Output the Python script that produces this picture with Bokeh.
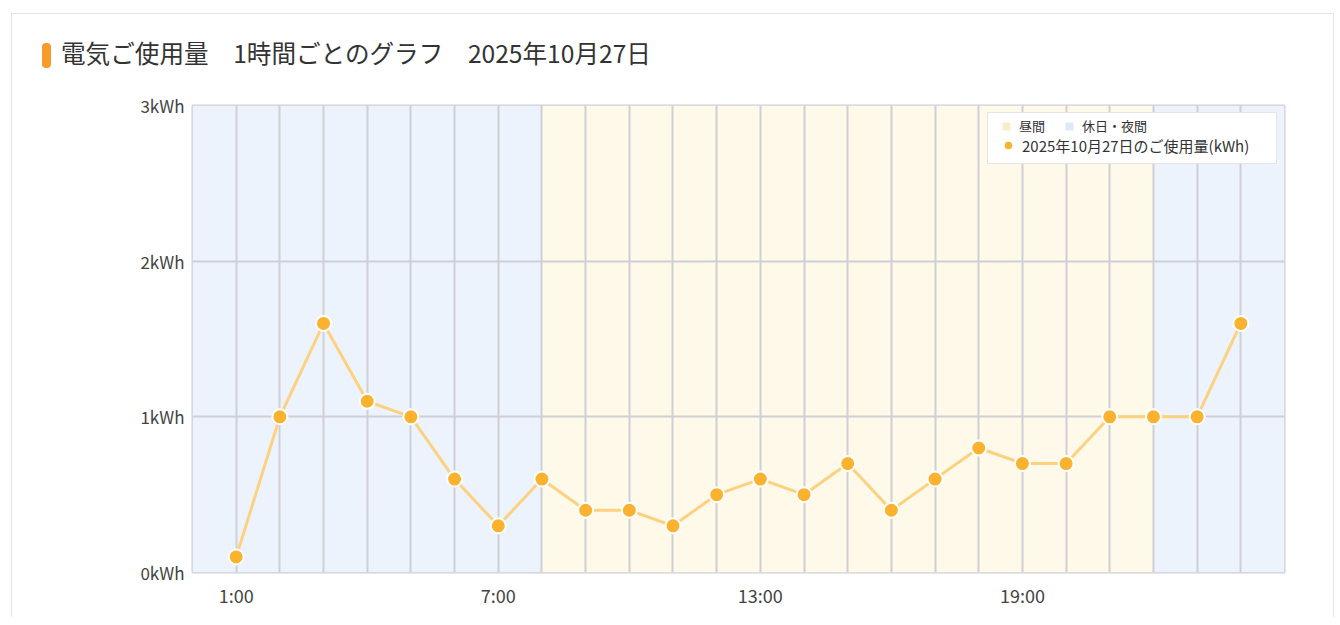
from bokeh.plotting import figure
from bokeh.layouts import column
from bokeh.models import Range1d, FixedTicker, Grid, Legend, LegendItem, Div
from bokeh.embed import file_html
from bokeh.resources import INLINE

# ---- data ----
title_text = "電気ご使用量　1時間ごとのグラフ　2025年10月27日"
hours = list(range(1, 25))
usage = [0.1, 1.0, 1.6, 1.1, 1.0, 0.6, 0.3, 0.6, 0.4, 0.4, 0.3, 0.5,
         0.6, 0.5, 0.7, 0.4, 0.6, 0.8, 0.7, 0.7, 1.0, 1.0, 1.0, 1.6]
day_start = [8]
day_end = [22]
night_start = [0, 22]
night_end = [8, 25]
x_label_ticks = [1, 7, 13, 19]
x_tick_labels = ["1:00", "7:00", "13:00", "19:00"]
y_ticks = [0, 1, 2, 3]
y_tick_labels = ["0kWh", "1kWh", "2kWh", "3kWh"]
series_name = "2025年10月27日のご使用量(kWh)"
day_name = "昼間"
night_name = "休日・夜間"

FONT = "Noto Sans CJK JP"
W = 1321
HEAD_H = 75

# ---- header (title with orange marker) ----
head_html = (
    f'<div style="position:relative;width:{W}px;height:{HEAD_H}px;font-family:\'{FONT}\';">'
    '<span style="position:absolute;left:30px;top:29px;width:9px;height:25px;'
    'background:#f99b2b;border-radius:4px;"></span>'
    '<span style="position:absolute;left:49px;top:23px;font-size:24.6px;line-height:30px;'
    f'color:#333333;white-space:nowrap;">{title_text}</span>'
    '</div>'
)
head = Div(text=head_html, width=W, height=HEAD_H, styles={"margin": "0", "padding": "0"})

# ---- main chart ----
p = figure(width=W, height=528, output_backend="svg", toolbar_location=None,
           x_range=Range1d(0, 25), y_range=Range1d(0, 3),
           min_border_left=180, min_border_right=49, min_border_top=16, min_border_bottom=45,
           background_fill_color="white", border_fill_color="white")
p.outline_line_color = "#cfcfd6"
p.outline_line_width = 2

# grids
p.xgrid.visible = False
p.ygrid.ticker = FixedTicker(ticks=y_ticks)
p.ygrid.grid_line_color = "#cfcfd6"
p.ygrid.grid_line_width = 2
vgrid = Grid(dimension=0, ticker=FixedTicker(ticks=hours),
             grid_line_color="#cfcfd6", grid_line_width=2)
p.add_layout(vgrid)

# background bands
night = p.quad(left=night_start, right=night_end, bottom=0, top=3,
               fill_color="#ecf3fd", line_color=None, level="image")
day = p.quad(left=day_start, right=day_end, bottom=0, top=3,
             fill_color="#fff9e9", line_color=None, level="image")
# legend swatch styles for the bands (hidden in the plot)
day_sw = p.quad(left=day_start, right=day_end, bottom=0, top=3,
                fill_color="#f6ecc9", line_color=None, visible=False)
night_sw = p.quad(left=night_start, right=night_end, bottom=0, top=3,
                  fill_color="#dfe8f8", line_color=None, visible=False)

# series
p.line(hours, usage, line_color="#fcd281", line_width=3)
pts = p.scatter(hours, usage, size=15, fill_color="#fbb22e",
                line_color="white", line_width=2)

# axes
p.xaxis.ticker = FixedTicker(ticks=x_label_ticks)
p.xaxis.major_label_overrides = dict(zip(x_label_ticks, x_tick_labels))
p.yaxis.ticker = FixedTicker(ticks=y_ticks)
p.yaxis.major_label_overrides = dict(zip(y_ticks, y_tick_labels))
for ax in (p.xaxis, p.yaxis):
    ax.axis_line_color = None
    ax.major_tick_line_color = None
    ax.minor_tick_line_color = None
    ax.major_tick_out = 0
    ax.major_tick_in = 0
    ax.minor_tick_out = 0
    ax.major_label_text_font = FONT
    ax.major_label_text_color = "#444444"
p.xaxis.major_label_text_font_size = "18px"
p.yaxis.major_label_text_font_size = "17px"
p.xaxis.major_label_standoff = 9
p.yaxis.major_label_standoff = 8

# legend: bordered box with series, plus row with bands on top
leg_a = Legend(items=[LegendItem(label=series_name, renderers=[pts])],
               location="top_right", margin=7, padding=6, spacing=0,
               title=" ", title_text_font_size="11px", title_standoff=2,
               border_line_color="#cccccc", border_line_width=1,
               background_fill_color="white", background_fill_alpha=1,
               glyph_width=28, glyph_height=24, label_standoff=0,
               label_text_font=FONT, label_text_font_size="15px",
               label_text_color="#333333", label_width=248, label_height=16)
leg_b = Legend(items=[LegendItem(label=day_name, renderers=[day_sw]),
                      LegendItem(label=night_name, renderers=[night_sw])],
               location=(809, 437), orientation="horizontal", margin=0, padding=0,
               spacing=19, border_line_color=None, background_fill_alpha=0,
               glyph_width=10, glyph_height=10, label_standoff=8,
               label_text_font=FONT, label_text_font_size="13px",
               label_text_color="#333333", label_height=14)
p.add_layout(leg_a)
p.add_layout(leg_b)

layout = column(head, p, spacing=0)
layout.styles = {"margin-left": "4px", "margin-top": "5px", "border": "1px solid #e4e4e4",
                 "border-bottom": "none", "transform": "translate(7px, 8px)"}

open("out.html", "w").write(file_html(layout, INLINE))
